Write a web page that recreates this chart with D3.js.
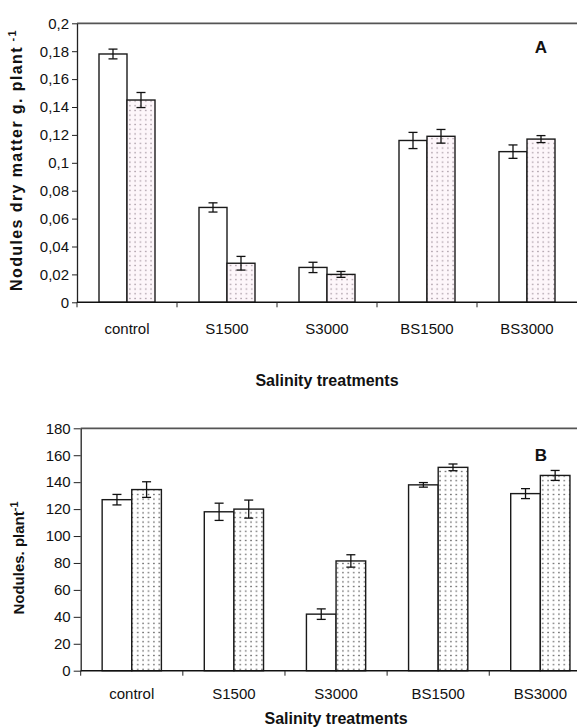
<!DOCTYPE html>
<html><head><meta charset="utf-8">
<script src="https://cdn.jsdelivr.net/npm/d3@7"></script>
<style>
body{margin:0;background:#fff}
svg{display:block}
text{font-family:"Liberation Sans",Arial,sans-serif;fill:#111}
</style>
</head><body>
<svg id="c" width="577" height="728"></svg>
<script>
// ---- data ----
const categories = ["control", "S1500", "S3000", "BS1500", "BS3000"];
const seriesNames = ["plain", "dotted"];

const dryMatterPlain      = [0.178, 0.068, 0.025, 0.116, 0.108];
const dryMatterPlainErr   = [0.0035, 0.0033, 0.0037, 0.0058, 0.0048];
const dryMatterDotted     = [0.145, 0.028, 0.020, 0.119, 0.117];
const dryMatterDottedErr  = [0.0054, 0.0049, 0.0021, 0.0049, 0.0025];

const noduleCountPlain     = [127, 118, 42, 138, 131.5];
const noduleCountPlainErr  = [3.9, 6.4, 3.9, 1.7, 3.7];
const noduleCountDotted    = [134.5, 120, 81.5, 151, 145];
const noduleCountDottedErr = [5.8, 6.7, 4.6, 2.5, 3.7];

const yTicksA = [0, 0.02, 0.04, 0.06, 0.08, 0.1, 0.12, 0.14, 0.16, 0.18, 0.2];
const yTickLabelsA = ["0", "0,02", "0,04", "0,06", "0,08", "0,1", "0,12", "0,14", "0,16", "0,18", "0,2"];
const yTicksB = [0, 20, 40, 60, 80, 100, 120, 140, 160, 180];
const yTickLabelsB = ["0", "20", "40", "60", "80", "100", "120", "140", "160", "180"];

const xTitle = "Salinity treatments";

// ---- drawing ----
const FONT = "'Liberation Sans', Arial, sans-serif";
const svg = d3.select("#c");
svg.append("rect").attr("width", 577).attr("height", 728).attr("fill", "#fff");
const defs = svg.append("defs");

function makePattern(id, w, h, bg, dot, ds) {
  const p = defs.append("pattern").attr("id", id).attr("patternUnits", "userSpaceOnUse")
    .attr("width", w).attr("height", h);
  p.append("rect").attr("width", w).attr("height", h).attr("fill", bg);
  p.append("rect").attr("x", w / 2 - ds / 2).attr("y", h / 2 - ds / 2).attr("width", ds).attr("height", ds).attr("fill", dot);
}
makePattern("dotA", 5.3, 4.7, "#fdf6fa", "#9c8c97", 1.3);
makePattern("dotB", 5.4, 4.6, "#ffffff", "#4a4a4a", 1.3);

function panel(cfg) {
  const g = svg.append("g");
  const x = d3.scaleBand().domain(categories).range([cfg.left, cfg.right]).padding(0);
  const bw = x.bandwidth();
  const xs = d3.scaleBand().domain(seriesNames).range([bw * cfg.g0, bw * cfg.g1]).padding(0);
  const y = d3.scaleLinear().domain(cfg.domain).range([cfg.bottom, cfg.top]);

  // top frame line
  g.append("line").attr("x1", cfg.left).attr("x2", 577).attr("y1", cfg.top).attr("y2", cfg.top)
    .attr("stroke", "#555").attr("stroke-width", 1.8);

  const rows = categories.map((c, i) => ({c, i}));
  const series = [
    {name: "plain", vals: cfg.plain, errs: cfg.plainErr, fill: "#fff"},
    {name: "dotted", vals: cfg.dotted, errs: cfg.dottedErr, fill: `url(#${cfg.pat})`}
  ];
  series.forEach(s => {
    const sg = g.append("g");
    sg.selectAll("rect").data(rows).join("rect")
      .attr("x", d => x(d.c) + xs(s.name))
      .attr("y", d => y(s.vals[d.i]))
      .attr("width", xs.bandwidth())
      .attr("height", d => y(0) - y(s.vals[d.i]))
      .attr("fill", s.fill).attr("stroke", "#1a1a1a").attr("stroke-width", 1.4);
    const eg = sg.append("g").attr("stroke", "#111").attr("stroke-width", 1.3);
    rows.forEach(d => {
      const cx = x(d.c) + xs(s.name) + xs.bandwidth() / 2;
      const v = s.vals[d.i], e = s.errs[d.i];
      eg.append("line").attr("x1", cx).attr("x2", cx).attr("y1", y(v + e)).attr("y2", y(v - e));
      eg.append("line").attr("x1", cx - 4.5).attr("x2", cx + 4.5).attr("y1", y(v + e)).attr("y2", y(v + e));
      eg.append("line").attr("x1", cx - 4.5).attr("x2", cx + 4.5).attr("y1", y(v - e)).attr("y2", y(v - e));
    });
  });

  // y axis
  const ya = g.append("g").attr("transform", `translate(${cfg.left},0)`)
    .call(d3.axisLeft(y).tickValues(cfg.ticks).tickFormat((d, i) => cfg.tickLabels[i])
      .tickSize(cfg.ytick).tickSizeOuter(0).tickPadding(3));
  ya.attr("font-family", null).attr("font-size", null);
  ya.select(".domain").attr("stroke", "#222").attr("stroke-width", 1.3);
  ya.selectAll(".tick line").attr("stroke", "#222").attr("stroke-width", 1);
  ya.selectAll(".tick text").style("font-size", "15px").style("font-family", FONT).attr("fill", "#111");

  // x axis
  g.append("line").attr("x1", cfg.left).attr("x2", cfg.right).attr("y1", y(0)).attr("y2", y(0))
    .attr("stroke", "#111").attr("stroke-width", 1.6);
  const bounds = categories.map(c => x(c));
  g.selectAll(".xb").data(bounds).join("line").attr("class", "xb")
    .attr("x1", d => d).attr("x2", d => d).attr("y1", y(0)).attr("y2", y(0) + 5)
    .attr("stroke", "#222").attr("stroke-width", 1);
  const xa = g.append("g").attr("transform", `translate(0,${y(0)})`)
    .call(d3.axisBottom(x).tickSize(0).tickPadding(cfg.xpad));
  xa.attr("font-family", null).attr("font-size", null);
  xa.select(".domain").remove();
  xa.selectAll(".tick text").style("font-size", "15px").style("font-family", FONT).attr("fill", "#111");

  // x title
  g.append("text").attr("x", (cfg.left + cfg.right) / 2).attr("y", cfg.xTitleY)
    .attr("text-anchor", "middle").style("font-size", "16px").style("font-weight", "bold")
    .style("font-family", FONT).text(xTitle);

  // y title
  const yt = g.append("text").attr("transform", `translate(${cfg.yTitleX},${cfg.yTitleY}) rotate(-90)`)
    .attr("text-anchor", "middle").style("font-size", cfg.yTitleSize + "px").style("font-weight", "bold")
    .style("font-family", FONT).style("letter-spacing", cfg.yTitleLS + "px");
  yt.append("tspan").text(cfg.yTitle);
  yt.append("tspan").attr("dy", -6).style("font-size", "11px").text(cfg.ySup);

  // panel letter
  g.append("text").attr("x", 541).attr("y", cfg.letterY).attr("text-anchor", "middle")
    .style("font-size", "17px").style("font-weight", "bold").style("font-family", FONT).text(cfg.letter);
}

panel({
  left: 77, right: 577, top: 23.3, bottom: 302.3, domain: [0, 0.2],
  g0: 0.22, g1: 0.78, pat: "dotA",
  plain: dryMatterPlain, plainErr: dryMatterPlainErr,
  dotted: dryMatterDotted, dottedErr: dryMatterDottedErr,
  ticks: yTicksA, tickLabels: yTickLabelsA, ytick: 5, xpad: 21,
  xTitleY: 386, yTitleX: 22, yTitleY: 160, yTitleSize: 16, yTitleLS: 1.4,
  yTitle: "Nodules dry matter g. plant", ySup: " -1",
  letter: "A", letterY: 53
});

panel({
  left: 80.7, right: 591.4, top: 428.3, bottom: 670.7, domain: [0, 180],
  g0: 0.21, g1: 0.79, pat: "dotB",
  plain: noduleCountPlain, plainErr: noduleCountPlainErr,
  dotted: noduleCountDotted, dottedErr: noduleCountDottedErr,
  ticks: yTicksB, tickLabels: yTickLabelsB, ytick: 7, xpad: 18,
  xTitleY: 724, yTitleX: 24, yTitleY: 558, yTitleSize: 15, yTitleLS: 0,
  yTitle: "Nodules. plant", ySup: "-1",
  letter: "B", letterY: 461
});
</script>
</body></html>
